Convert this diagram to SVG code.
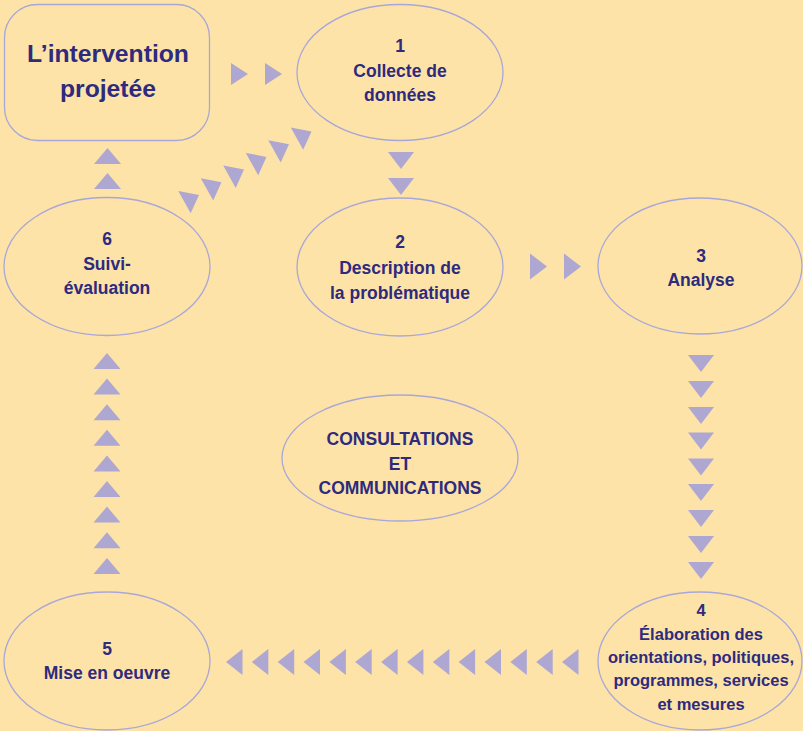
<svg xmlns="http://www.w3.org/2000/svg" xmlns:xlink="http://www.w3.org/1999/xlink" width="803" height="731" viewBox="0 0 803 731">
<style>
.bg{fill:#FDE3A7}
.shape{fill:#FDE3A7;stroke:#A9A7D9;stroke-width:1.3}
.t{font-family:"Liberation Sans",Arial,sans-serif;font-weight:bold;font-size:17.5px;fill:#2E2A7E;text-anchor:middle}
.big{font-size:24.7px}
.sm{font-size:16.5px}
.tri{fill:#ADA7D2}
</style>
<defs>
<polygon id="tdown" class="tri" points="-13,0 13,0 0,17"/>
<polygon id="tup" class="tri" points="0,0 13.5,16 -13.5,16"/>
<polygon id="tleft" class="tri" points="0,0 16.5,-13 16.5,13"/>
<polygon id="tdiag" class="tri" points="0,0 20.7,4 12.4,22.3"/>
</defs>
<rect class="bg" x="0" y="0" width="803" height="731"/>

<g id="connectors">
  <polygon class="tri" points="231,63 231,85 248,74"/>
  <polygon class="tri" points="265,63 265,85 282,74"/>
  <use xlink:href="#tdown" x="401" y="152"/>
  <use xlink:href="#tdown" x="401" y="178"/>
  <polygon class="tri" points="530,253.5 530,279.5 547,266.5"/>
  <polygon class="tri" points="564,253.5 564,279.5 581,266.5"/>
  <use xlink:href="#tdown" x="701" y="355"/>
  <use xlink:href="#tdown" x="701" y="381"/>
  <use xlink:href="#tdown" x="701" y="407"/>
  <use xlink:href="#tdown" x="701" y="432.5"/>
  <use xlink:href="#tdown" x="701" y="458.5"/>
  <use xlink:href="#tdown" x="701" y="484"/>
  <use xlink:href="#tdown" x="701" y="510"/>
  <use xlink:href="#tdown" x="701" y="536"/>
  <use xlink:href="#tdown" x="701" y="562"/>
  <use xlink:href="#tleft" x="226" y="662"/>
  <use xlink:href="#tleft" x="251.8" y="662"/>
  <use xlink:href="#tleft" x="277.7" y="662"/>
  <use xlink:href="#tleft" x="303.5" y="662"/>
  <use xlink:href="#tleft" x="329.4" y="662"/>
  <use xlink:href="#tleft" x="355.2" y="662"/>
  <use xlink:href="#tleft" x="381.1" y="662"/>
  <use xlink:href="#tleft" x="406.9" y="662"/>
  <use xlink:href="#tleft" x="432.8" y="662"/>
  <use xlink:href="#tleft" x="458.6" y="662"/>
  <use xlink:href="#tleft" x="484.5" y="662"/>
  <use xlink:href="#tleft" x="510.3" y="662"/>
  <use xlink:href="#tleft" x="536.2" y="662"/>
  <use xlink:href="#tleft" x="562" y="662"/>
  <use xlink:href="#tup" x="107" y="353"/>
  <use xlink:href="#tup" x="107" y="378.6"/>
  <use xlink:href="#tup" x="107" y="404.2"/>
  <use xlink:href="#tup" x="107" y="429.8"/>
  <use xlink:href="#tup" x="107" y="455.4"/>
  <use xlink:href="#tup" x="107" y="481"/>
  <use xlink:href="#tup" x="107" y="506.6"/>
  <use xlink:href="#tup" x="107" y="532.2"/>
  <use xlink:href="#tup" x="107" y="558"/>
  <use xlink:href="#tup" x="107.5" y="148"/>
  <use xlink:href="#tup" x="107.5" y="173"/>
  <use xlink:href="#tdiag" x="178.3" y="191"/>
  <use xlink:href="#tdiag" x="200.8" y="178.3"/>
  <use xlink:href="#tdiag" x="223.3" y="165.6"/>
  <use xlink:href="#tdiag" x="245.8" y="152.9"/>
  <use xlink:href="#tdiag" x="268.3" y="140.2"/>
  <use xlink:href="#tdiag" x="290.8" y="127.4"/>
</g>

<g id="intervention">
  <rect class="shape" x="4.5" y="4.5" width="205" height="136" rx="33" ry="33"/>
  <text class="t big" x="108" y="62">L’intervention</text>
  <text class="t big" x="108" y="97">projetée</text>
</g>
<g id="n1">
  <ellipse class="shape" cx="400" cy="72.5" rx="103" ry="68"/>
  <text class="t" x="400" y="52">1</text>
  <text class="t" x="400" y="77">Collecte de</text>
  <text class="t" x="400" y="101">données</text>
</g>
<g id="n2">
  <ellipse class="shape" cx="400" cy="267" rx="103" ry="69"/>
  <text class="t" x="400" y="248">2</text>
  <text class="t" x="400" y="274">Description de</text>
  <text class="t" x="400" y="299">la problématique</text>
</g>
<g id="n3">
  <ellipse class="shape" cx="700" cy="266" rx="102" ry="68"/>
  <text class="t" x="701" y="262">3</text>
  <text class="t" x="701" y="286">Analyse</text>
</g>
<g id="n4">
  <ellipse class="shape" cx="700" cy="661" rx="102" ry="69"/>
  <text class="t sm" x="701" y="616">4</text>
  <text class="t sm" x="701" y="640">Élaboration des</text>
  <text class="t sm" x="701" y="663">orientations, politiques,</text>
  <text class="t sm" x="701" y="686">programmes, services</text>
  <text class="t sm" x="701" y="710">et mesures</text>
</g>
<g id="n5">
  <ellipse class="shape" cx="107" cy="661" rx="103" ry="69"/>
  <text class="t" x="107" y="655">5</text>
  <text class="t" x="107" y="679">Mise en oeuvre</text>
</g>
<g id="n6">
  <ellipse class="shape" cx="107" cy="266.5" rx="103" ry="69"/>
  <text class="t" x="107" y="245">6</text>
  <text class="t" x="107" y="270">Suivi-</text>
  <text class="t" x="107" y="294">évaluation</text>
</g>
<g id="consultations">
  <ellipse class="shape" cx="400" cy="458" rx="118" ry="63"/>
  <text class="t" x="400" y="445">CONSULTATIONS</text>
  <text class="t" x="400" y="470">ET</text>
  <text class="t" x="400" y="494">COMMUNICATIONS</text>
</g>
</svg>
